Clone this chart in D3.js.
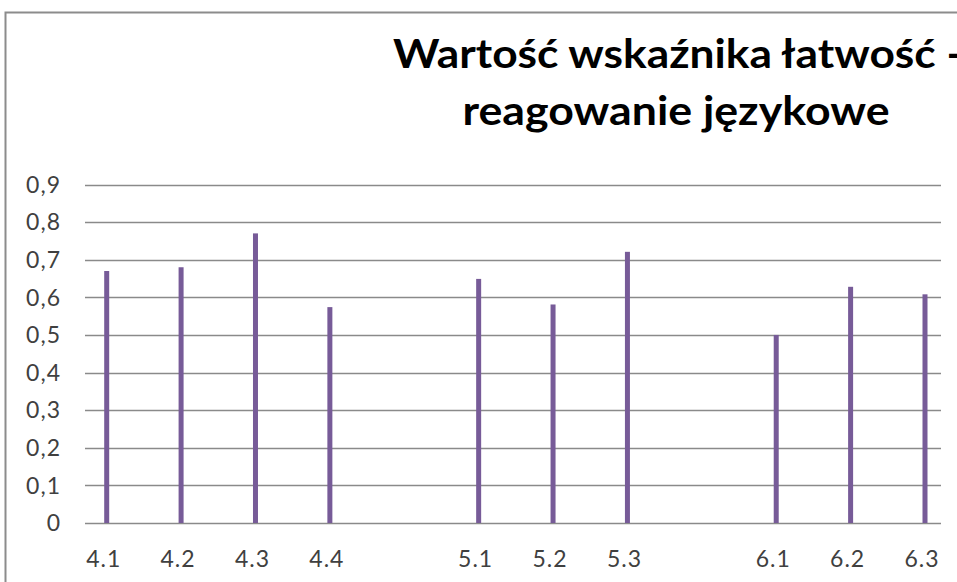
<!DOCTYPE html>
<html>
<head>
<meta charset="utf-8">
<title>Wartość wskaźnika łatwość</title>
<style>
  body { margin: 0; background: #fff; overflow: hidden; }
  svg { display: block; }
</style>
<script src="https://d3js.org/d3.v7.min.js"></script>
</head>
<body>
<script>
// data (blank slots keep the gaps between groups)
var categories = ["4.1", "4.2", "4.3", "4.4", "", "5.1", "5.2", "5.3", " ", "6.1", "6.2", "6.3"];
var values = [0.67, 0.68, 0.77, 0.574, null, 0.649, 0.581, 0.721, null, 0.50, 0.628, 0.608];
var yTicks = [0, 0.1, 0.2, 0.3, 0.4, 0.5, 0.6, 0.7, 0.8, 0.9];

var width = 957, height = 582;
var svg = d3.select("body").append("svg")
    .attr("width", width)
    .attr("height", height);

svg.append("rect").attr("width", width).attr("height", height).attr("fill", "white");

// outer chart frame (cut off at right and bottom)
svg.append("path")
    .attr("d", "M5.5," + height + "V12.5H" + width)
    .attr("fill", "none")
    .attr("stroke", "#8c8c8c")
    .attr("stroke-width", 2);

var gridLeft = 85, gridRight = 941;

var x = d3.scalePoint()
    .domain(categories)
    .range([106.7, 925]);

var y = d3.scaleLinear()
    .domain([0, 0.9])
    .range([523, 184.5]);

// gridlines
svg.append("g")
  .selectAll("line")
  .data(yTicks)
  .join("line")
    .attr("x1", gridLeft)
    .attr("x2", gridRight)
    .attr("y1", function(d) { return Math.round(y(d)) + 0.5; })
    .attr("y2", function(d) { return Math.round(y(d)) + 0.5; })
    .attr("stroke", "#8a8a8a")
    .attr("stroke-width", 1.3);

// y labels
var fmt = function(d) { return d === 0 ? "0" : d3.format(".1f")(d).replace(".", ","); };
svg.append("g")
  .selectAll("text")
  .data(yTicks)
  .join("text")
    .attr("x", 61)
    .attr("y", function(d) { return y(d); })
    .attr("dy", "0.36em")
    .attr("text-anchor", "end")
    .attr("font-family", "Lato, 'Open Sans', sans-serif")
    .attr("font-size", 23)
    .attr("letter-spacing", 1)
    .attr("fill", "#404040")
    .text(fmt);

// bars
var data = categories.map(function(c, i) { return {cat: c, v: values[i]}; })
    .filter(function(d) { return d.v != null; });

svg.append("g")
  .selectAll("rect")
  .data(data)
  .join("rect")
    .attr("x", function(d) { return x(d.cat) - 2.5; })
    .attr("width", 5)
    .attr("y", function(d) { return y(d.v); })
    .attr("height", function(d) { return y(0) - y(d.v); })
    .attr("fill", "#775b98");

// x labels
svg.append("g")
  .selectAll("text")
  .data(data)
  .join("text")
    .attr("x", function(d) { return x(d.cat) - 3; })
    .attr("y", 559)
    .attr("dy", "0.36em")
    .attr("text-anchor", "middle")
    .attr("font-family", "Lato, 'Open Sans', sans-serif")
    .attr("font-size", 23)
    .attr("letter-spacing", 1)
    .attr("fill", "#404040")
    .text(function(d) { return d.cat; });

// title
var title = svg.append("text")
    .attr("text-anchor", "middle")
    .attr("font-family", "Lato, 'Open Sans', sans-serif")
    .attr("font-weight", "bold")
    .attr("font-size", 41)
    .attr("fill", "#000");
title.append("tspan").attr("x", 678).attr("y", 68)
    .attr("textLength", 570).attr("lengthAdjust", "spacingAndGlyphs")
    .text("Wartość wskaźnika łatwość -");
title.append("tspan").attr("x", 676).attr("y", 125)
    .attr("textLength", 427).attr("lengthAdjust", "spacingAndGlyphs")
    .text("reagowanie językowe");
</script>
</body>
</html>
